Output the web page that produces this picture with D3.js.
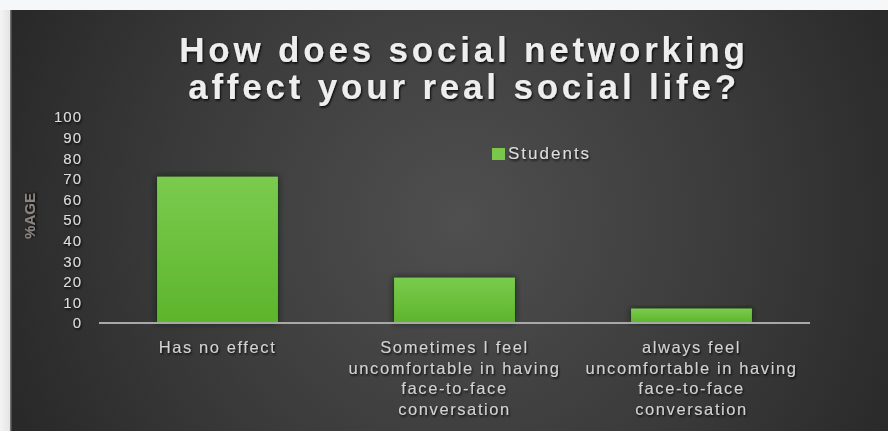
<!DOCTYPE html>
<html>
<head>
<meta charset="utf-8">
<script src="https://cdn.jsdelivr.net/npm/d3@7/dist/d3.min.js"></script>
<style>
  html, body { margin: 0; padding: 0; background: #f6f7f9; }
  svg { display: block; }
</style>
</head>
<body>
<svg id="chart" width="888" height="431"></svg>
<script>
// Survey answers: share of students (%) per answer
const categories = [
  "Has no effect",
  "Sometimes I feel\nuncomfortable in having\nface-to-face\nconversation",
  "always feel\nuncomfortable in having\nface-to-face\nconversation"
];
const students = [71, 22, 7];
const yTicks = [0, 10, 20, 30, 40, 50, 60, 70, 80, 90, 100];
const seriesName = "Students";
const titleLines = ["How does social networking", "affect your real social life?"];
const yTitle = "%AGE";

const svg = d3.select("#chart");
const W = 888, H = 431;
const defs = svg.append("defs");

// dark slide background with a soft radial highlight
const bg = defs.append("radialGradient").attr("id", "bg")
  .attr("gradientUnits", "userSpaceOnUse")
  .attr("cx", 460).attr("cy", 220).attr("r", 520);
bg.append("stop").attr("offset", "0%").attr("stop-color", "#4f4f4f");
bg.append("stop").attr("offset", "55%").attr("stop-color", "#3a3a3a");
bg.append("stop").attr("offset", "100%").attr("stop-color", "#262626");

const barGrad = defs.append("linearGradient").attr("id", "barGrad")
  .attr("x1", 0).attr("y1", 0).attr("x2", 0).attr("y2", 1);
barGrad.append("stop").attr("offset", "0%").attr("stop-color", "#7acb4e");
barGrad.append("stop").attr("offset", "100%").attr("stop-color", "#5db52b");

const leftGrad = defs.append("linearGradient").attr("id", "leftGrad")
  .attr("x1", 0).attr("y1", 0).attr("x2", 1).attr("y2", 0);
leftGrad.append("stop").attr("offset", "0%").attr("stop-color", "#f4f4f4");
leftGrad.append("stop").attr("offset", "100%").attr("stop-color", "#e2e2e2");

const glow = defs.append("filter").attr("id", "glow")
  .attr("x", "-20%").attr("y", "-20%").attr("width", "140%").attr("height", "140%");
glow.append("feDropShadow").attr("dx", 0).attr("dy", 0).attr("stdDeviation", 3)
  .attr("flood-color", "#0c1a06").attr("flood-opacity", 0.85);

const txtShadow = defs.append("filter").attr("id", "txtShadow")
  .attr("x", "-10%").attr("y", "-30%").attr("width", "120%").attr("height", "160%");
txtShadow.append("feDropShadow").attr("dx", 1).attr("dy", 1.5).attr("stdDeviation", 1.2)
  .attr("flood-color", "#000").attr("flood-opacity", 0.9);

// page frame
svg.append("rect").attr("width", W).attr("height", H).attr("fill", "#f6f7f9");
svg.append("rect").attr("x", 0).attr("y", 10).attr("width", 11).attr("height", H - 10)
  .attr("fill", "url(#leftGrad)");
svg.append("rect").attr("x", 11).attr("y", 10).attr("width", W - 11).attr("height", H - 10)
  .attr("fill", "url(#bg)");
svg.append("rect").attr("x", 10).attr("y", 10).attr("width", 1.5).attr("height", H - 10)
  .attr("fill", "#707070");

// scales
const x = d3.scaleBand().domain(categories).range([99, 810])
  .paddingInner(0.49).paddingOuter(0.245);
const y = d3.scaleLinear().domain([0, 100]).range([323, 117]);

// title
const title = svg.append("text")
  .attr("text-anchor", "middle")
  .attr("font-family", "Liberation Sans, Arial, sans-serif")
  .attr("font-weight", "bold")
  .attr("font-size", 35)
  .attr("letter-spacing", 3.8)
  .attr("fill", "#eeeeee")
  .attr("filter", "url(#txtShadow)");
titleLines.forEach((t, i) => {
  title.append("tspan").attr("x", 464).attr("y", 62 + i * 37).text(t);
});

// bars
svg.append("g").selectAll("rect").data(students).join("rect")
  .attr("x", (d, i) => x(categories[i]))
  .attr("y", d => y(d))
  .attr("width", x.bandwidth())
  .attr("height", d => y(0) - y(d))
  .attr("fill", "url(#barGrad)")
  .attr("filter", "url(#glow)");

// y axis (labels only)
const yAxis = svg.append("g").attr("transform", "translate(82,0)")
  .call(d3.axisLeft(y).tickValues(yTicks).tickSize(0).tickPadding(0));
yAxis.select(".domain").remove();
yAxis.selectAll("text")
  .attr("font-family", "Liberation Sans, Arial, sans-serif")
  .attr("font-size", 15)
  .attr("letter-spacing", 1)
  .attr("fill", "#dcdcdc")
  .attr("filter", "url(#txtShadow)");

// x axis baseline and wrapped category labels
const xAxis = svg.append("g").attr("transform", `translate(0,${y(0)})`)
  .call(d3.axisBottom(x).tickSize(0).tickPadding(0));
xAxis.select(".domain").attr("stroke", "#a8a8a8").attr("stroke-width", 2)
  .attr("d", `M${x.range()[0]},0H${x.range()[1]}`);
xAxis.selectAll(".tick text")
  .attr("font-family", "Liberation Sans, Arial, sans-serif")
  .attr("font-size", 16.5)
  .attr("letter-spacing", 1.6)
  .attr("fill", "#d2d2d2")
  .attr("filter", "url(#txtShadow)")
  .each(function (d) {
    const el = d3.select(this);
    el.text(null).attr("y", 0).attr("dy", null);
    d.split("\n").forEach((line, i) => {
      el.append("tspan").attr("x", 0).attr("y", 30 + i * 20.7).text(line);
    });
  });

// y axis title
svg.append("text")
  .attr("transform", "translate(35,216) rotate(-90)")
  .attr("text-anchor", "middle")
  .attr("font-family", "Liberation Sans, Arial, sans-serif")
  .attr("font-weight", "bold")
  .attr("font-size", 15)
  .attr("fill", "#8a8580")
  .attr("filter", "url(#txtShadow)")
  .text(yTitle);

// legend
const legend = svg.append("g").attr("transform", "translate(492,148)");
legend.append("rect").attr("width", 13).attr("height", 12).attr("fill", "#79c84c");
legend.append("text").attr("x", 16).attr("y", 11)
  .attr("font-family", "Liberation Sans, Arial, sans-serif")
  .attr("font-size", 17)
  .attr("letter-spacing", 2)
  .attr("fill", "#dddddd")
  .attr("filter", "url(#txtShadow)")
  .text(seriesName);
</script>
</body>
</html>
